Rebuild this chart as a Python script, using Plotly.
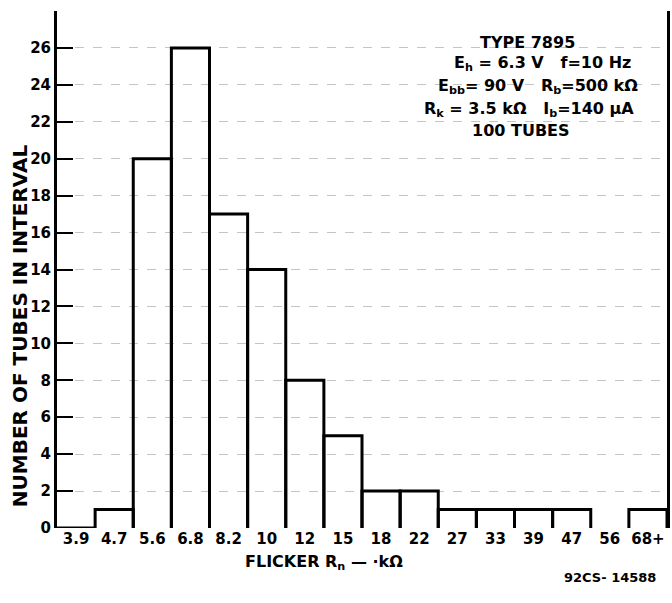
import plotly.graph_objects as go

# ---- data ----
categories = ["3.9", "4.7", "5.6", "6.8", "8.2", "10", "12", "15",
              "18", "22", "27", "33", "39", "47", "56", "68+"]
counts = [0, 1, 20, 26, 17, 14, 8, 5, 2, 2, 1, 1, 1, 1, 0, 1]
y_tick_values = list(range(0, 30, 2))
y_tick_labels = [str(v) for v in y_tick_values[:-1]] + [""]

FONT = "DejaVu Sans"

# histogram outline built from the counts (left edge, top, right edge per bin)
xs, ys = [], []
for i, v in enumerate(counts):
    if v == 0 and i != 0:
        continue
    left, right = i - 0.5, i + 0.5
    xs += [left, left, right, right, None]
    ys += [0, v, v, 0, None]

fig = go.Figure()
fig.add_trace(go.Scatter(
    x=xs, y=ys, mode="lines",
    line=dict(color="black", width=3),
    hoverinfo="skip", showlegend=False, cliponaxis=False,
))

fig.update_layout(
    width=672, height=603,
    margin=dict(l=57, r=2, t=11, b=75),
    paper_bgcolor="white", plot_bgcolor="white",
    font=dict(family=FONT, color="black", size=15, weight="bold"),
    xaxis=dict(
        range=[-0.5, len(categories) - 0.5],
        tickmode="array",
        tickvals=list(range(len(categories))),
        ticktext=categories,
        showgrid=False, zeroline=False, showline=False, ticks="",
        tickfont=dict(family=FONT, size=15, weight="bold"),
    ),
    yaxis=dict(
        range=[0, 28],
        tickmode="array",
        tickvals=y_tick_values,
        ticktext=y_tick_labels,
        ticks="inside", ticklen=16, tickwidth=2, tickcolor="black",
        showline=True, linecolor="black", linewidth=3, mirror=True,
        showgrid=True, gridcolor="#c4c4c4", griddash="dash", gridwidth=1,
        zeroline=False,
        tickfont=dict(family=FONT, size=15, weight="bold"),
    ),
)

def px_x(p):
    return (p - 57) / 613.0

def px_y(p):
    return (528 - p) / 517.0

info_lines = [
    ("TYPE 7895", 530, 42),
    ("E<sub>h</sub> = 6.3 V   f=10 Hz", 545, 64),
    ("E<sub>bb</sub>= 90 V   R<sub>b</sub>=500 kΩ", 540, 87),
    ("R<sub>k</sub> = 3.5 kΩ   I<sub>b</sub>=140 μA", 531, 109),
    ("100 TUBES", 523, 130),
]
for text, cx, cy in info_lines:
    fig.add_annotation(
        text=text, xref="paper", yref="paper",
        x=px_x(cx), y=px_y(cy), xanchor="center", yanchor="middle",
        showarrow=False, font=dict(family=FONT, size=16, weight="bold"),
    )

fig.add_annotation(
    text="FLICKER R<sub>n</sub> — ·kΩ", xref="paper", yref="paper",
    x=px_x(325), y=px_y(562), xanchor="center", yanchor="middle",
    showarrow=False, font=dict(family=FONT, size=16, weight="bold"),
)
fig.add_annotation(
    text="NUMBER OF TUBES IN INTERVAL", xref="paper", yref="paper",
    x=px_x(20), y=px_y(326), xanchor="center", yanchor="middle",
    textangle=-90, showarrow=False,
    font=dict(family=FONT, size=20, weight="bold"),
)
fig.add_annotation(
    text="92CS- 14588", xref="paper", yref="paper",
    x=px_x(613), y=px_y(577), xanchor="center", yanchor="middle",
    showarrow=False, font=dict(family=FONT, size=13, weight="bold"),
)

fig.write_html("out.html", config={"displayModeBar": False},
               post_script="document.body.style.margin='0';")
